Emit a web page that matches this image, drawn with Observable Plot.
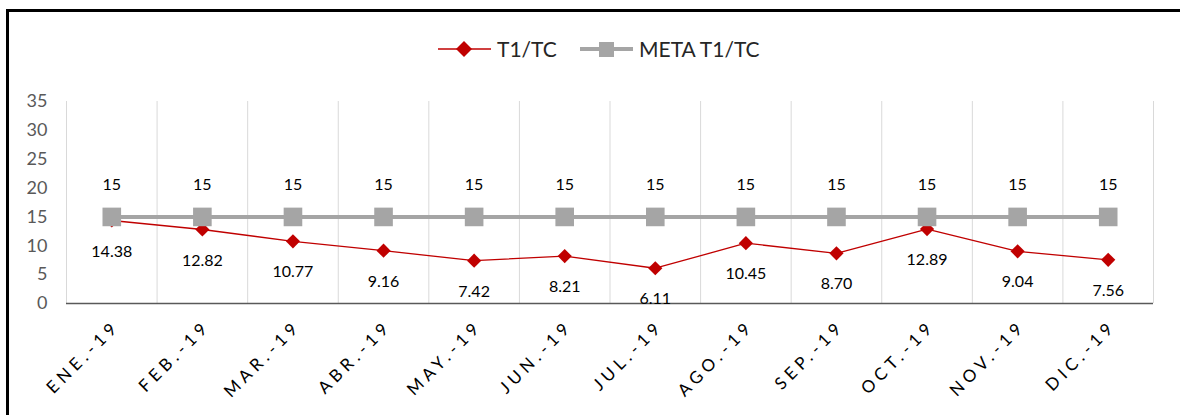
<!DOCTYPE html>
<html>
<head>
<meta charset="utf-8">
<script src="https://cdn.jsdelivr.net/npm/d3@7"></script>
<script src="https://cdn.jsdelivr.net/npm/@observablehq/plot@0.6"></script>
<style>
  html, body { margin: 0; padding: 0; background: #fff; overflow: hidden; }
  body { width: 1180px; height: 415px; position: relative; font-family: Lato, "Open Sans", sans-serif; }
  #frame { position: absolute; left: 6px; top: 9px; width: 1220px; height: 440px;
           border-left: 3px solid #000; border-top: 3px solid #000; }
  #legend { height: 70px; position: relative; }
  .lg { position: absolute; top: 24px; display: flex; align-items: center; font-size: 21px; color: #262626; }
  .lg svg { margin-right: 6px; }
  #chart g[aria-label="x-axis tick label"] text { letter-spacing: 4.6px; }
</style>
</head>
<body>
<div id="frame">
  <div id="legend">
    <div class="lg" style="left:429px">
      <svg width="53" height="20"><line x1="0" y1="10" x2="53" y2="10" stroke="#c00000" stroke-width="1.5"/><path d="M26,2 L34,10 L26,18 L18,10 Z" fill="#c00000"/></svg>T1/TC
    </div>
    <div class="lg" style="left:571px">
      <svg width="53" height="20"><line x1="0" y1="10" x2="53" y2="10" stroke="#a5a5a5" stroke-width="4"/><rect x="19" y="3" width="15" height="15" fill="#a5a5a5"/></svg>META T1/TC
    </div>
  </div>
  <div id="chart"></div>
</div>
<script>
const months = ["ENE.-19","FEB.-19","MAR.-19","ABR.-19","MAY.-19","JUN.-19","JUL.-19","AGO.-19","SEP.-19","OCT.-19","NOV.-19","DIC.-19"];
const t1tc = [14.38, 12.82, 10.77, 9.16, 7.42, 8.21, 6.11, 10.45, 8.70, 12.89, 9.04, 7.56];
const meta = [15, 15, 15, 15, 15, 15, 15, 15, 15, 15, 15, 15];
const yTicks = [0, 5, 10, 15, 20, 25, 30, 35];

const data = months.map((m, i) => ({i, pos: i + 0.5, month: m, t1: t1tc[i], meta: meta[i]}));
const font = "Lato, 'Open Sans', sans-serif";

const chart = Plot.plot({
  width: 1171,
  height: 333,
  marginLeft: 57,
  marginRight: 27,
  marginTop: 19,
  marginBottom: 112,
  style: {fontFamily: font, background: "transparent"},
  x: {type: "linear", domain: [0, months.length]},
  y: {domain: [0, 35]},
  marks: [
    Plot.ruleX(d3.range(months.length + 1), {y1: 0, y2: 35, stroke: "#d9d9d9", strokeWidth: 1}),
    Plot.axisY({ticks: yTicks, tickSize: 0, tickPadding: 19, fontSize: 18, fill: "#595959", label: null}),
    Plot.axisX({ticks: data.map(d => d.pos), tickFormat: (d) => months[Math.floor(d)], tickSize: 0, tickRotate: -45,
      tickPadding: 20, dx: 5, fontSize: 17, fill: "#000", label: null}),
    Plot.ruleY([0], {stroke: "#595959", strokeWidth: 1.5}),
    Plot.lineY(data, {x: "pos", y: "t1", stroke: "#c00000", strokeWidth: 1.3}),
    Plot.lineY(data, {x: "pos", y: "meta", stroke: "#a5a5a5", strokeWidth: 4}),
    Plot.dot(data, {x: "pos", y: "t1", symbol: "diamond2", r: 6.4, fill: "#c00000", stroke: "none"}),
    Plot.dot(data, {x: "pos", y: "meta", symbol: "square", r: 10.5, fill: "#a5a5a5", stroke: "none"}),
    Plot.text(data, {x: "pos", y: "t1", text: d => d.t1.toFixed(2), dy: 31, fontSize: 16, fill: "#000"}),
    Plot.text(data, {x: "pos", y: "meta", text: d => String(d.meta), dy: -32, fontSize: 16, fill: "#000"})
  ]
});
document.getElementById("chart").appendChild(chart);
</script>
</body>
</html>
